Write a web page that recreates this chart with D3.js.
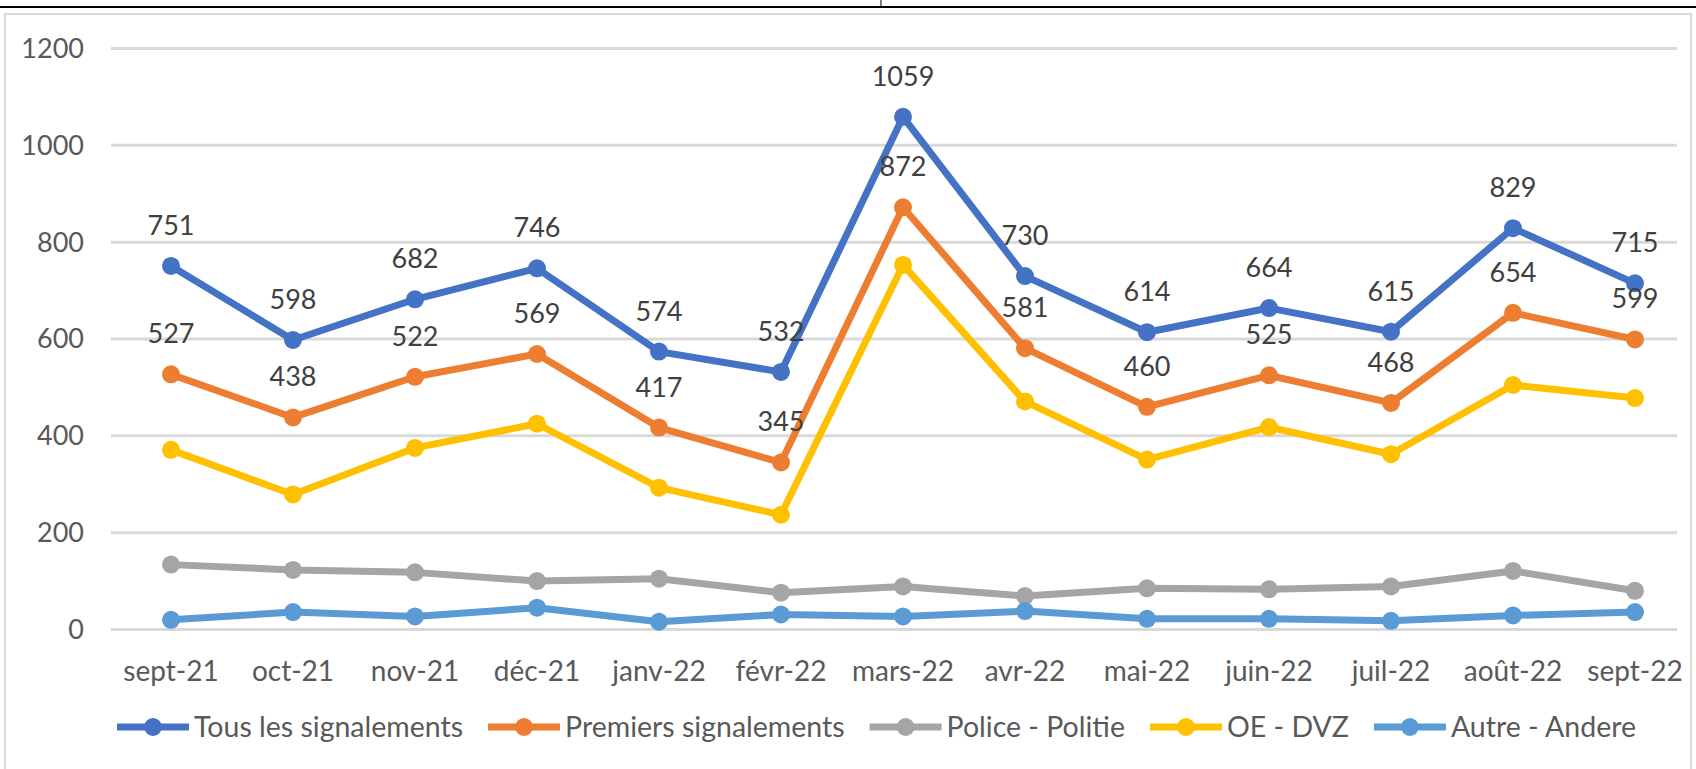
<!DOCTYPE html>
<html>
<head>
<meta charset="utf-8">
<script src="https://cdn.jsdelivr.net/npm/d3@7"></script>
<style>
  body { margin: 0; background: #fff; }
  svg text { font-family: Lato, "Open Sans", sans-serif; }
</style>
</head>
<body>
<script>
// months on the x axis
var months = ["sept-21", "oct-21", "nov-21", "déc-21", "janv-22", "févr-22", "mars-22",
              "avr-22", "mai-22", "juin-22", "juil-22", "août-22", "sept-22"];

// series values
var tous     = [751, 598, 682, 746, 574, 532, 1059, 730, 614, 664, 615, 829, 715];
var premiers = [527, 438, 522, 569, 417, 345, 872, 581, 460, 525, 468, 654, 599];
var police   = [134, 123, 118, 100, 105, 76, 89, 69, 85, 83, 89, 121, 80];
var oeDvz    = [371, 279, 375, 425, 293, 237, 753, 471, 351, 418, 362, 505, 478];
var autre    = [20, 36, 27, 45, 16, 31, 27, 38, 22, 22, 18, 29, 36];

var yTicks = [0, 200, 400, 600, 800, 1000, 1200];

var series = [
  {name: "Tous les signalements", values: tous, color: "#4472C4", labels: true},
  {name: "Premiers signalements", values: premiers, color: "#ED7D31", labels: true},
  {name: "Police - Politie", values: police, color: "#A5A5A5", labels: false},
  {name: "OE - DVZ", values: oeDvz, color: "#FFC000", labels: false},
  {name: "Autre - Andere", values: autre, color: "#5B9BD5", labels: false}
];

var W = 1696, H = 769;
var svg = d3.select("body").append("svg")
    .attr("width", W)
    .attr("height", H);

// outer bits: black rule at the top and the chart frame
svg.append("rect")
    .attr("x", 5).attr("y", 14)
    .attr("width", 1686).attr("height", 800)
    .attr("fill", "#fff")
    .attr("stroke", "#D9D9D9")
    .attr("stroke-width", 2);
svg.append("line")
    .attr("x1", 0).attr("x2", W)
    .attr("y1", 7).attr("y2", 7)
    .attr("stroke", "#000").attr("stroke-width", 2);
svg.append("line")
    .attr("x1", 881).attr("x2", 881)
    .attr("y1", 0).attr("y2", 7)
    .attr("stroke", "#000").attr("stroke-width", 1);

var x = d3.scalePoint()
    .domain(months)
    .range([171, 1635]);

var y = d3.scaleLinear()
    .domain([0, 1200])
    .range([629.5, 48.5]);

// gridlines
svg.append("g")
  .selectAll("line")
  .data(yTicks)
  .enter().append("line")
    .attr("x1", 111).attr("x2", 1677)
    .attr("y1", function(d) { return y(d); })
    .attr("y2", function(d) { return y(d); })
    .attr("stroke", "#D9D9D9")
    .attr("stroke-width", 3);

// y axis labels
svg.append("g")
  .selectAll("text")
  .data(yTicks)
  .enter().append("text")
    .attr("x", 84)
    .attr("y", function(d) { return y(d); })
    .attr("dy", "0.35em")
    .attr("text-anchor", "end")
    .attr("font-size", 27)
    .attr("fill", "#595959")
    .text(function(d) { return d; });

// x axis labels
svg.append("g")
  .selectAll("text")
  .data(months)
  .enter().append("text")
    .attr("x", function(d) { return x(d); })
    .attr("y", 681)
    .attr("text-anchor", "middle")
    .attr("font-size", 28)
    .attr("fill", "#595959")
    .text(function(d) { return d; });

var line = d3.line()
    .x(function(d, i) { return x(months[i]); })
    .y(function(d) { return y(d); });

series.forEach(function(s) {
  var g = svg.append("g");
  g.append("path")
    .attr("d", line(s.values))
    .attr("fill", "none")
    .attr("stroke", s.color)
    .attr("stroke-width", 7)
    .attr("stroke-linejoin", "round");
  g.selectAll("circle")
    .data(s.values)
    .enter().append("circle")
      .attr("cx", function(d, i) { return x(months[i]); })
      .attr("cy", function(d) { return y(d); })
      .attr("r", 9)
      .attr("fill", s.color);
});

// data labels on top two series
series.filter(function(s) { return s.labels; }).forEach(function(s) {
  svg.append("g")
    .selectAll("text")
    .data(s.values)
    .enter().append("text")
      .attr("x", function(d, i) { return x(months[i]); })
      .attr("y", function(d) { return y(d) - 31; })
      .attr("text-anchor", "middle")
      .attr("font-size", 27)
      .attr("fill", "#404040")
      .text(function(d) { return d; });
});

// legend
var legend = svg.append("g");
var lx = 117, ly = 727;
series.forEach(function(s) {
  var item = legend.append("g");
  item.append("line")
    .attr("x1", lx).attr("x2", lx + 72)
    .attr("y1", ly).attr("y2", ly)
    .attr("stroke", s.color)
    .attr("stroke-width", 7);
  item.append("circle")
    .attr("cx", lx + 36).attr("cy", ly)
    .attr("r", 9)
    .attr("fill", s.color);
  var t = item.append("text")
    .attr("x", lx + 77)
    .attr("y", ly)
    .attr("dy", "0.35em")
    .attr("font-size", 28.5)
    .attr("fill", "#595959")
    .text(s.name);
  lx = lx + 77 + t.node().getComputedTextLength() + 25;
});
</script>
</body>
</html>
